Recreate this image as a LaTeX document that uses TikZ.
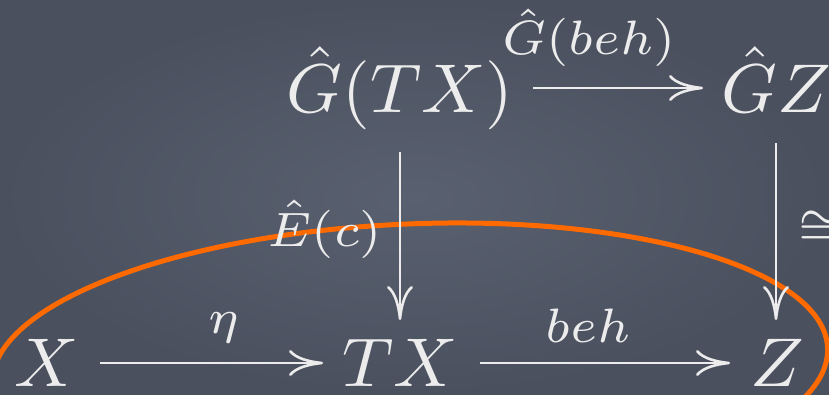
\RequirePackage{fix-cm}
\documentclass[tikz,border=0pt]{standalone}
\usepackage{amsmath,amssymb}
\usetikzlibrary{arrows.meta}
\definecolor{bgin}{HTML}{59606F}
\definecolor{bgout}{HTML}{4A505E}
\definecolor{fg}{HTML}{ECECEC}
\definecolor{ora}{HTML}{FF6A00}
\newcommand{\objtext}[1]{\scalebox{7.1}[6.9]{$#1$}}
\newcommand{\lbltext}[1]{\scalebox{7.1}[6.9]{$\scriptstyle #1$}}
\begin{document}
\begin{tikzpicture}[x=1pt,y=-1pt,
  obj/.style={text=fg, inner sep=0pt, font=\normalsize, anchor=base},
  lbl/.style={text=fg, inner sep=0pt, font=\normalsize},
  arr/.style={draw=fg, line width=2.6pt, -{Computer Modern Rightarrow[length=34pt,width=26pt]}}]
\useasboundingbox (0,0) rectangle (829,394);
\shade[inner color=bgin, outer color=bgout] (0,0) rectangle (829,394);
\draw[ora, line width=5pt, rotate around={2.5:(410,366)}] (410,366) ellipse [x radius=418, y radius=142];
\node[obj] (X) at (47,386) {\objtext{X}};
\node[obj] (TX) at (400,386) {\objtext{TX}};
\node[obj] (Z) at (777,386) {\objtext{Z}};
\node[obj] (GTX) at (400,112) {\objtext{\hat{G}(TX)}};
\node[obj] (GZ) at (776,112) {\objtext{\hat{G}Z}};
\draw[arr] ([shift={(53,-23)}]X.base) -- ([shift={(-77,-23)}]TX.base)
  node[lbl, midway, anchor=south, xshift=13pt, yshift=19pt] (eta) {\lbltext{\eta}};
\draw[arr] ([shift={(80,-23)}]TX.base) -- ([shift={(-47,-23)}]Z.base)
  node[lbl, midway, anchor=south, xshift=-17pt, yshift=19pt] (beh) {\lbltext{beh}};
\draw[arr] ([shift={(133,-24)}]GTX.base) -- ([shift={(-73,-24)}]GZ.base)
  node[lbl, midway, anchor=south, xshift=-29pt, yshift=20pt] (Gbeh) {\lbltext{\hat{G}(beh)}};
\draw[arr] ([shift={(0,40)}]GTX.base) -- ([shift={(0,-66)}]TX.base)
  node[lbl, pos=0.46, anchor=east, xshift=-17pt] (Ec) {\lbltext{\hat{E}(c)}};
\draw[arr] ([shift={(0,31)}]GZ.base) -- ([shift={(-1,-66)}]Z.base)
  node[lbl, pos=0.48, anchor=west, xshift=21pt] (iso) {\lbltext{\cong}};
\end{tikzpicture}
\end{document}
